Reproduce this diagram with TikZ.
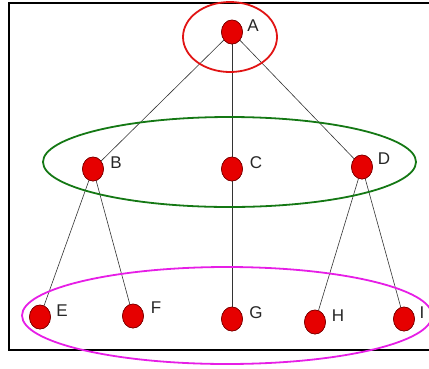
\documentclass[tikz,border=0pt]{standalone}
\usepackage{fontspec}
\setmainfont{Liberation Sans}
\usetikzlibrary{shapes.geometric}
\definecolor{dotred}{RGB}{230,0,0}
\definecolor{dotedge}{RGB}{120,0,0}
\definecolor{ringgreen}{RGB}{20,120,20}
\definecolor{ringmag}{RGB}{230,30,230}
\definecolor{ringred}{RGB}{225,20,20}
\begin{document}
\begin{tikzpicture}[x=1pt,y=-1pt,
  dot/.style={ellipse,fill=dotred,draw=dotedge,line width=0.6pt,minimum width=21pt,minimum height=24pt,inner sep=0pt},
  lbl/.style={font=\fontsize{17}{17}\selectfont,text=black!85,inner sep=0pt,anchor=center},
  edge/.style={draw=black!80,line width=0.6pt},
  ring/.style={line width=1.8pt}]
\useasboundingbox (0,0) rectangle (429,368);
\begin{scope}
\clip (0,0) rectangle (429,368);
\draw[line width=1.6pt] (9,3) rectangle (440,350);
\node[dot] (A) at (232,32) {};
\node[dot] (B) at (93,169) {};
\node[dot] (C) at (232,169) {};
\node[dot] (D) at (362,167) {};
\node[dot] (E) at (40,317) {};
\node[dot] (F) at (133,316) {};
\node[dot] (G) at (232,319) {};
\node[dot] (H) at (315,322) {};
\node[dot] (I) at (404,319) {};
\draw[edge] (A) -- (B);
\draw[edge] (A) -- (C);
\draw[edge] (A) -- (D);
\draw[edge] (B) -- (E);
\draw[edge] (B) -- (F);
\draw[edge] (C) -- (G);
\draw[edge] (D) -- (H);
\draw[edge] (D) -- (I);
\draw[ring,draw=ringred] (230,37) ellipse [x radius=47, y radius=35];
\draw[ring,draw=ringgreen] (229.5,162) ellipse [x radius=186.5, y radius=45];
\draw[ring,draw=ringmag] (227,315.5) ellipse [x radius=205, y radius=48.5];
\foreach \n in {A,B,C,D,E,F,G,H,I} \node[dot] at (\n) {};
\node[lbl] (lA) at (253,26) {A};
\node[lbl] (lB) at (116,163) {B};
\node[lbl] (lC) at (256,163) {C};
\node[lbl] (lD) at (384,159) {D};
\node[lbl] (lE) at (62,311) {E};
\node[lbl] (lF) at (156,308) {F};
\node[lbl] (lG) at (256,313) {G};
\node[lbl] (lH) at (338,316) {H};
\node[lbl] (lI) at (422,313) {I};
\end{scope}
\end{tikzpicture}
\end{document}
